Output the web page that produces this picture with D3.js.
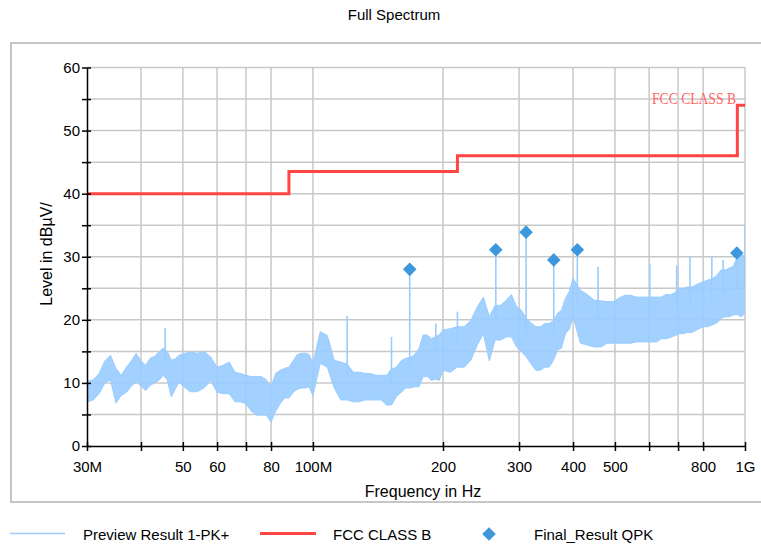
<!DOCTYPE html>
<html><head><meta charset="utf-8">
<script src="https://cdn.jsdelivr.net/npm/d3@7/dist/d3.min.js"></script>
<style>body{margin:0;background:#fff;} text{font-family:"Liberation Sans",Arial,sans-serif;fill:#000;}</style>
</head><body>
<svg id="c" width="761" height="546"></svg>
<script>
// ---- data (frequency in MHz, level in dBµV) ----
const specFreq = [30,31,32,33,34,35,36,37,38,39,40,41,42,43,44,45,46,47,48,49,50,52,54,56,58,60,62,64,66,68,70,72,74,76,78,80,82,84,86,88,90,92,94,96,98,100,104,108,112,116,120,124,128,132,136,140,144,148,152,156,160,164,168,172,176,180,184,188,192,196,200,208,216,224,232,240,248,256,264,272,280,288,296,304,312,320,328,336,344,352,360,368,376,384,392,400,416,432,448,464,480,496,512,528,544,560,576,592,608,624,640,656,672,688,704,720,736,752,768,784,800,820,840,860,880,900,920,940,960,980,1000];
const specHi = [10.2,10.5,11.5,13.5,14.4,12.3,11.2,12.5,13.5,14.7,13.5,12.8,13.9,14.2,14.9,15.5,15,13.6,13.8,14.4,14.6,14.9,14.7,15.0,14.1,12.5,12.8,13.3,11.7,11.5,11.2,11,11,11,10.5,9.4,11.5,12,12.3,12.5,13.5,14.5,14.7,14.7,14.5,13.1,18.1,17.5,13.6,13.3,13.0,11.7,11.7,11.5,11.5,11.2,11.2,11.2,12.2,12.5,13.5,13.9,14,14.5,15.5,17.6,17.6,17.0,17.3,17.6,18.4,18.6,18.9,18.9,19.9,22,23.6,20.5,22.3,22.3,23.1,24.0,22.1,21.5,20.2,19.5,18.9,18.9,19.4,19.4,19.8,21,21.5,23.4,24.5,26.6,24.7,24.0,23.1,23.0,22.9,22.9,23.5,23.9,23.9,23.6,23.6,23.6,23.6,23.6,23.6,24,24,24.3,25,25,25.2,25.2,25.5,25.8,26,26.3,26.5,27,27.9,27.9,28.2,28.5,30,30.5,30];
const specLo = [7.0,7.3,8.3,10,10.5,6.8,8,8.5,9.5,10.2,9.5,8.8,9.6,10,10.4,11.2,10.5,7.8,9.0,10.2,9.5,8.6,8.6,9.2,10.4,8.5,8.3,8.3,7,7,6.7,5.5,4.9,4.9,4.9,3.8,5.5,6.7,7.6,7.6,8.5,9,9.2,9.2,9.4,8,13.1,12.5,9.2,7.3,7.3,7,7,7.3,7.3,7.3,7.3,6.5,6.5,7.8,8.5,9.2,9.2,9.4,9.4,11,11,10.4,10.6,10.4,12,11.7,12.5,12.5,13.6,16,17.8,13.5,16.8,16.8,17.3,17.3,15.7,15.0,14.1,13,12,12,12.5,12.5,13.5,15.2,15.5,17.8,18.5,20.5,16.3,16.0,15.7,15.7,16.3,16.3,16.3,16.3,16.3,16.5,16.5,16.5,16.5,16.5,17,17,17.2,17.5,17.8,17.8,18,18,18.3,18.6,18.9,18.9,19.2,19.5,20.2,20.5,20.5,20.8,20.8,20.5,21];
const spikeFreq = [45.5,120,152,167.5,192.5,216,265,311.4,360.9,409.2,457,602,695,746,838,890,957.3,1000];
const spikeTop = [18.7,20.6,17.3,28.0,19.4,21.3,31.1,33.9,29.5,31.1,28.4,28.9,28.6,30,30,29.5,30.6,34.8];
const spikeBottom = [13,11,10,12,15,16,20,18,17,22,20,21,22,22,23,24,25,25];
const limitFreq = [30,88,88,216,216,960,960,1000];
const limitLevel = [40,40,43.5,43.5,46,46,54,54];
const qpkFreq = [167.5,265,311.4,360.9,409.2,957.3];
const qpkLevel = [28.0,31.1,33.9,29.5,31.1,30.6];
const xTickValues = [30,40,50,60,70,80,100,200,300,400,500,600,700,800,1000];
const xTickLabels = {30:"30M",50:"50",60:"60",80:"80",100:"100M",200:"200",300:"300",400:"400",500:"500",800:"800",1000:"1G"};
const yTickValues = [0,5,10,15,20,25,30,35,40,45,50,55,60];
const legendLabels = ["Preview Result 1-PK+","FCC CLASS B","Final_Result QPK"];

// ---- colours ----
const cSpec = "#99ccff", cLimit = "#ff4444", cQpk = "#3d97dc", cGrid = "#c8c8c8";

const svg = d3.select("#c");
const x = d3.scaleLog().domain([30,1000]).range([87,745]);
const y = d3.scaleLinear().domain([0,60]).range([446,67.5]);

// frame
svg.append("rect").attr("x",11).attr("y",43).attr("width",780).attr("height",459)
  .attr("fill","none").attr("stroke","#b4b4b4").attr("stroke-width",1.5);

// title
svg.append("text").attr("x",394).attr("y",19.5).attr("text-anchor","middle")
  .style("font-size","15px").text("Full Spectrum");

// grid
const grid = svg.append("g");
grid.selectAll("line.v").data(xTickValues.slice(1)).enter().append("line")
  .attr("x1",d=>x(d)).attr("x2",d=>x(d)).attr("y1",y(60)).attr("y2",y(0))
  .attr("stroke",cGrid).attr("stroke-width",1.5);
grid.selectAll("line.h").data(yTickValues.slice(1)).enter().append("line")
  .attr("x1",x(30)).attr("x2",x(1000)).attr("y1",d=>y(d)).attr("y2",d=>y(d))
  .attr("stroke",cGrid).attr("stroke-width",1.5);

// clip
svg.append("clipPath").attr("id","pc").append("rect")
  .attr("x",x(30)).attr("y",y(60)).attr("width",x(1000)-x(30)).attr("height",y(0)-y(60));
const plot = svg.append("g").attr("clip-path","url(#pc)");

// spectrum band
const specData = specFreq.map((f,i)=>({f, hi:specHi[i], lo:specLo[i]}));
plot.append("path").datum(specData)
  .attr("d", d3.area().x(d=>x(d.f)).y0(d=>y(d.lo)).y1(d=>y(d.hi)))
  .attr("fill",cSpec).attr("fill-opacity",0.9).attr("stroke",cSpec).attr("stroke-width",1);
plot.selectAll("line.spk").data(spikeFreq).enter().append("line")
  .attr("x1",d=>x(d)).attr("x2",d=>x(d))
  .attr("y1",(d,i)=>y(spikeTop[i])).attr("y2",(d,i)=>y(spikeBottom[i]))
  .attr("stroke",cSpec).attr("stroke-width",1.6);

// limit line
const limData = limitFreq.map((f,i)=>({f, v:limitLevel[i]}));
plot.append("path").datum(limData)
  .attr("d", d3.line().x(d=>x(d.f)).y(d=>y(d.v)))
  .attr("fill","none").attr("stroke",cLimit).attr("stroke-width",3);

// limit label
svg.append("text").attr("x",652).attr("y",103.5)
  .attr("textLength",84).attr("lengthAdjust","spacingAndGlyphs")
  .style("font-family","'Liberation Serif','Times New Roman',serif")
  .style("font-size","16.5px").style("fill","#ff6666").text("FCC CLASS B");

// qpk diamonds
const sym = d3.symbol().type(d3.symbolSquare).size(92);
svg.selectAll("path.q").data(qpkFreq).enter().append("path")
  .attr("d",sym)
  .attr("transform",(d,i)=>`translate(${x(d)},${y(qpkLevel[i])}) rotate(45)`)
  .attr("fill",cQpk);

// axes
const yAxis = svg.append("g").attr("transform",`translate(${x(30)},0)`)
  .call(d3.axisLeft(y).tickValues(yTickValues).tickSize(5).tickSizeOuter(0).tickPadding(2)
    .tickFormat(d=> d%10===0 ? String(d) : ""));
yAxis.selectAll(".tick line").attr("x1",4);
const xAxis = svg.append("g").attr("transform",`translate(0,${y(0)})`)
  .call(d3.axisBottom(x).tickValues(xTickValues).tickSize(5).tickSizeOuter(0).tickPadding(10)
    .tickFormat(d=> xTickLabels[d] || ""));
xAxis.selectAll(".tick line").attr("y1",-4);
[yAxis,xAxis].forEach(a=>{
  a.selectAll("path.domain,.tick line").attr("stroke","#000").attr("stroke-width",1.5);
  a.selectAll("text").style("font-size","15px").style("font-family","'Liberation Sans',Arial,sans-serif").attr("fill","#000");
});

// axis titles
svg.append("text").attr("x",423).attr("y",497).attr("text-anchor","middle")
  .style("font-size","16px").text("Frequency in Hz");
svg.append("text").attr("transform","translate(52,254) rotate(-90)").attr("text-anchor","middle")
  .style("font-size","16px").text("Level in dBµV/");

// legend
const lg = svg.append("g");
lg.append("line").attr("x1",10).attr("x2",65).attr("y1",533.5).attr("y2",533.5)
  .attr("stroke",cSpec).attr("stroke-width",1.6);
lg.append("text").attr("x",83).attr("y",539.5).style("font-size","15px").text(legendLabels[0]);
lg.append("line").attr("x1",260).attr("x2",316).attr("y1",533.5).attr("y2",533.5)
  .attr("stroke",cLimit).attr("stroke-width",3);
lg.append("text").attr("x",333).attr("y",539.5).style("font-size","15px").text(legendLabels[1]);
lg.append("path").attr("d",sym).attr("transform","translate(489,534) rotate(45)").attr("fill",cQpk);
lg.append("text").attr("x",534).attr("y",539.5).style("font-size","15px").text(legendLabels[2]);
</script>
</body></html>
